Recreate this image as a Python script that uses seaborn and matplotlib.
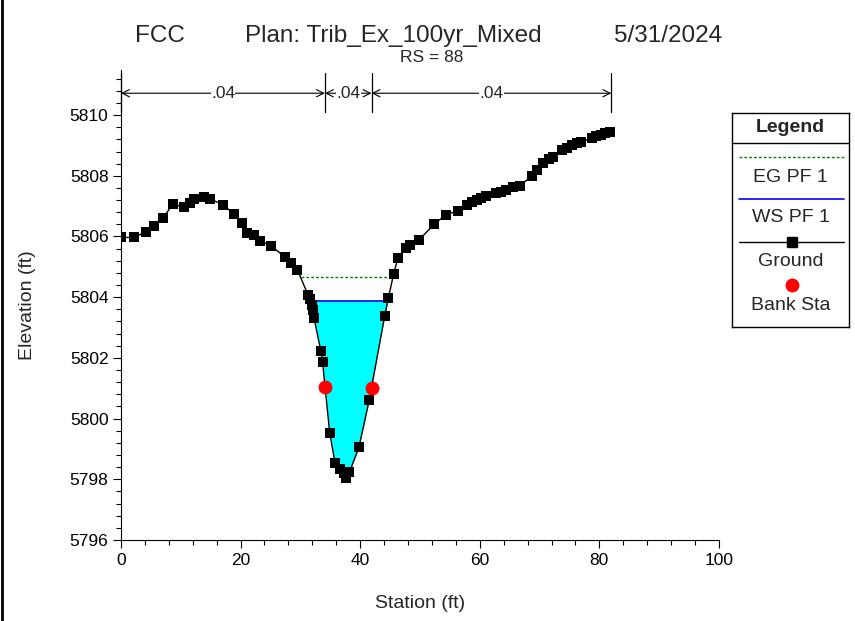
import matplotlib
matplotlib.use("Agg")
import matplotlib.pyplot as plt
from matplotlib.lines import Line2D
from matplotlib.ticker import MultipleLocator
import numpy as np
import pandas as pd
import seaborn as sns

# ground profile (station ft, elevation ft)
station = [0.0, 2.2, 4.2, 5.6, 7.0, 8.75, 10.5, 11.5, 12.2, 13.9, 14.9, 17.1, 18.9,
           20.2, 21.0, 22.2, 23.2, 25.1, 27.4, 28.4, 29.5, 31.3, 31.6, 31.9, 32.05,
           32.3, 33.4, 33.7, 34.9, 35.8, 36.6, 37.3, 37.7, 38.2, 39.8, 41.5, 44.1,
           44.7, 45.6, 46.3, 47.6, 48.3, 49.9, 52.4, 54.3, 56.3, 57.9, 58.7, 59.5,
           60.2, 61.0, 62.7, 63.5, 64.4, 65.6, 66.7, 68.7, 69.5, 70.6, 71.5, 72.3,
           73.8, 74.6, 75.5, 76.2, 77.0, 78.7, 79.5, 80.3, 81.0, 81.7]
elevation = [5805.97, 5805.97, 5806.16, 5806.36, 5806.62, 5807.07, 5806.96, 5807.09,
             5807.22, 5807.29, 5807.24, 5807.04, 5806.74, 5806.43, 5806.10, 5806.05,
             5805.86, 5805.69, 5805.33, 5805.14, 5804.90, 5804.07, 5803.93, 5803.74,
             5803.58, 5803.30, 5802.24, 5801.88, 5799.54, 5798.53, 5798.33, 5798.20,
             5798.04, 5798.23, 5799.06, 5800.60, 5803.38, 5803.96, 5804.77, 5805.28,
             5805.61, 5805.72, 5805.90, 5806.41, 5806.71, 5806.85, 5807.04, 5807.12,
             5807.20, 5807.27, 5807.33, 5807.44, 5807.48, 5807.53, 5807.62, 5807.67,
             5807.99, 5808.20, 5808.41, 5808.55, 5808.63, 5808.85, 5808.93, 5809.01,
             5809.07, 5809.12, 5809.24, 5809.30, 5809.35, 5809.40, 5809.43]

bank_station = [34.1, 41.9]
bank_elev = [5801.05, 5801.02]

ws_elev = 5803.89   # WS PF 1
eg_elev = 5804.66   # EG PF 1

# Manning's n reaches
n_bounds = [0.0, 34.1, 41.9, 82.0]
n_values = [".04", ".04", ".04"]

title_parts = ["FCC", "Plan: Trib_Ex_100yr_Mixed", "5/31/2024"]
subtitle = "RS = 88"

FS = 12.5    # tick labels, n values, subtitle
LFS = 14     # axis labels, legend

sns.set_theme(style="white")
plt.rcParams["font.family"] = ["Liberation Sans", "DejaVu Sans"]

fig = plt.figure(figsize=(8.55, 6.21), dpi=100)
ax = fig.add_axes([0.1415, 0.1304, 0.6994, 0.7576])

x = np.array(station)
z = np.array(elevation)


def crossings(level):
    # where the channel banks cross a given water level
    lo = np.argmin(z)
    left = np.interp(level, z[:lo + 1][::-1], x[:lo + 1][::-1])
    right = np.interp(level, z[lo:], x[lo:])
    return left, right


# water fill
wl, wr = crossings(ws_elev)
ax.fill_between(x, z, ws_elev, where=z <= ws_elev, interpolate=True,
                color="#00FFFF", lw=0, zorder=1)
ax.plot([wl, wr], [ws_elev, ws_elev], color="#0000FF", lw=1.2, zorder=2)

el, er = crossings(eg_elev)
ax.plot([el, er], [eg_elev, eg_elev], color="#008000", lw=1.0, ls=(0, (2, 1.5)), zorder=2)

gdf = pd.DataFrame({"station": station, "elevation": elevation})
sns.lineplot(data=gdf, x="station", y="elevation", sort=False, estimator=None,
             color="black", lw=1.0, marker="s", markersize=7, markeredgewidth=0,
             ax=ax, zorder=3)
bdf = pd.DataFrame({"station": bank_station, "elevation": bank_elev})
sns.scatterplot(data=bdf, x="station", y="elevation", color="#FF0000", s=100,
                linewidth=0, ax=ax, zorder=4)

ax.set_xlim(0, 100)
ax.set_ylim(5796, 5811.5)
ax.set_yticks(np.arange(5796, 5811, 2))
ax.xaxis.set_major_locator(MultipleLocator(20))
ax.xaxis.set_minor_locator(MultipleLocator(4))
ax.yaxis.set_minor_locator(MultipleLocator(0.4))
ax.tick_params(which="major", direction="out", length=6, width=0.8, colors="black",
               labelsize=FS, left=True, bottom=True, pad=3)
ax.tick_params(which="minor", direction="out", length=3.6, width=0.8, colors="black",
               left=True, bottom=True)
for s in ["top", "right"]:
    ax.spines[s].set_visible(False)
for s in ["left", "bottom"]:
    ax.spines[s].set_color("black")
    ax.spines[s].set_linewidth(0.8)
ax.set_xlabel("Station (ft)", fontsize=LFS, labelpad=20)
ax.set_ylabel("Elevation (ft)", fontsize=LFS, labelpad=24)
ax.set_facecolor("white")

# Manning's n dimension lines
y_arrow = 5810.72
for b in n_bounds:
    ax.plot([b, b], [5810.1, 5811.4], color="black", lw=0.9, clip_on=False)
for (a, b), n in zip(zip(n_bounds[:-1], n_bounds[1:]), n_values):
    ax.annotate("", xy=(b, y_arrow), xytext=(a, y_arrow),
                arrowprops=dict(arrowstyle="<->", lw=0.8, color="black",
                                shrinkA=0, shrinkB=0, mutation_scale=13))
    ax.text((a + b) / 2, y_arrow, n, ha="center", va="center", fontsize=FS,
            bbox=dict(facecolor="white", edgecolor="none", pad=0.3))

# titles
ty = 1 - 36 / 621
fig.text(135 / 855, ty, title_parts[0], ha="left", va="center", fontsize=17.5)
fig.text(245 / 855, ty, title_parts[1], ha="left", va="center", fontsize=17.5)
fig.text(722 / 855, ty, title_parts[2], ha="right", va="center", fontsize=17.5)
fig.text(432 / 855, 1 - 57 / 621, subtitle, ha="center", va="center", fontsize=FS)

# legend box
lax = fig.add_axes([732 / 855, 1 - 327 / 621, 117 / 855, 214 / 621])
lax.set_xlim(0, 117)
lax.set_ylim(214, 0)
lax.set_xticks([])
lax.set_yticks([])
for s in lax.spines.values():
    s.set_visible(True)
    s.set_color("black")
    s.set_linewidth(1.0)
lax.axhline(30, color="black", lw=1.0)
lax.text(58.5, 15, "Legend", ha="center", va="center", fontsize=LFS, fontweight="bold")
lax.plot([7, 112], [44, 44], color="#008000", lw=1.0, ls=(0, (2, 1.5)))
lax.text(58.5, 65, "EG PF 1", ha="center", va="center", fontsize=LFS)
lax.plot([7, 112], [86, 86], color="#0000FF", lw=1.2)
lax.text(58.5, 105, "WS PF 1", ha="center", va="center", fontsize=LFS)
lax.plot([7, 112], [129, 129], color="black", lw=1.0)
lax.plot([59.5], [129], marker="s", color="black", markersize=7)
lax.text(58.5, 149, "Ground", ha="center", va="center", fontsize=LFS)
lax.plot([59.5], [172], marker="o", color="#FF0000", markersize=10, markeredgewidth=0)
lax.text(58.5, 192, "Bank Sta", ha="center", va="center", fontsize=LFS)

# left frame edge
fig.add_artist(Line2D([0.002, 0.002], [0, 1], transform=fig.transFigure,
                      color="black", lw=2))

fig.savefig("out.png", dpi=100)
